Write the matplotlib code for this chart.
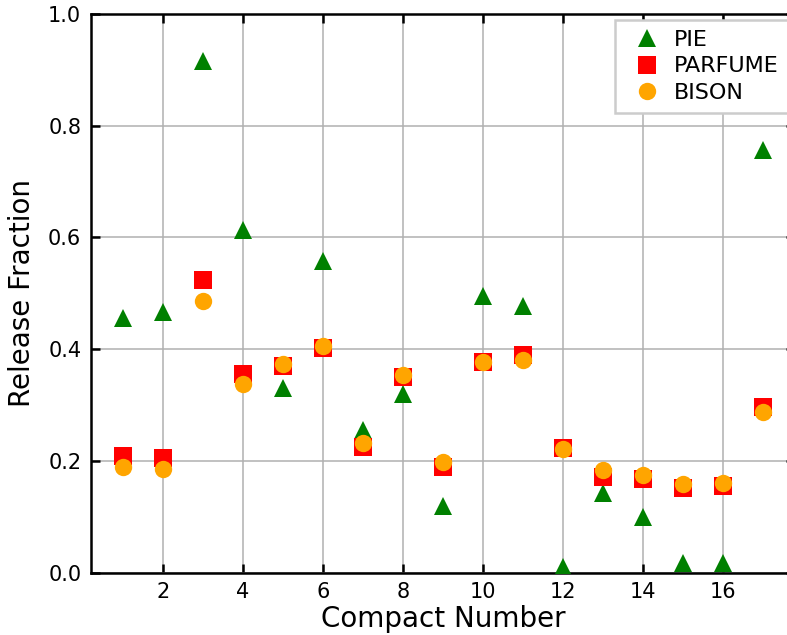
import numpy as np
import matplotlib.pyplot as plt

compact = np.arange(1, 18)

pie = [0.455, 0.466, 0.916, 0.614, 0.331, 0.557, 0.256, 0.320, 0.119,
       0.495, 0.477, 0.010, 0.143, 0.099, 0.018, 0.018, 0.756]
parfume = [0.209, 0.205, 0.523, 0.356, 0.370, 0.403, 0.225, 0.350, 0.190,
           0.377, 0.390, 0.223, 0.172, 0.167, 0.152, 0.156, 0.296]
bison = [0.190, 0.186, 0.486, 0.337, 0.374, 0.405, 0.233, 0.354, 0.199,
         0.378, 0.380, 0.222, 0.183, 0.174, 0.159, 0.160, 0.288]

xticks = [2, 4, 6, 8, 10, 12, 14, 16]
yticks = [0.0, 0.2, 0.4, 0.6, 0.8, 1.0]

fig = plt.figure(figsize=(7.87, 6.35), dpi=100)
ax = fig.add_axes([0.1156, 0.0981, 0.8946, 0.8799])

ms = 12.5
ax.plot(compact, pie, '^', color='green', ms=ms, mew=0, label='PIE', zorder=3)
ax.plot(compact, parfume, 's', color='red', ms=ms, mew=0, label='PARFUME', zorder=3)
ax.plot(compact, bison, 'o', color='orange', ms=ms, mew=0, label='BISON', zorder=3)

ax.set_xlim(0.2, 17.8)
ax.set_ylim(0, 1.0)
ax.set_xticks(xticks)
ax.set_yticks(yticks)
ax.yaxis.set_major_formatter(plt.FormatStrFormatter('%.1f'))
ax.tick_params(direction='in', top=True, right=True, length=6.5, width=1.8,
               labelsize=15, pad=7)
ax.grid(True, color='#b0b0b0', linewidth=1.1)
ax.set_axisbelow(True)
for sp in ax.spines.values():
    sp.set_linewidth(1.8)

ax.set_xlabel('Compact Number', fontsize=20, labelpad=2)
ax.set_ylabel('Release Fraction', fontsize=20, labelpad=9)

leg = ax.legend(loc='upper right', fontsize=16, fancybox=False, framealpha=1,
                borderaxespad=0.27, borderpad=0.46, handletextpad=0.2,
                labelspacing=0.28, handlelength=2.0)
leg.get_frame().set_edgecolor('#cccccc')
leg.get_frame().set_linewidth(1.8)

fig.savefig('out.png', dpi=100)
